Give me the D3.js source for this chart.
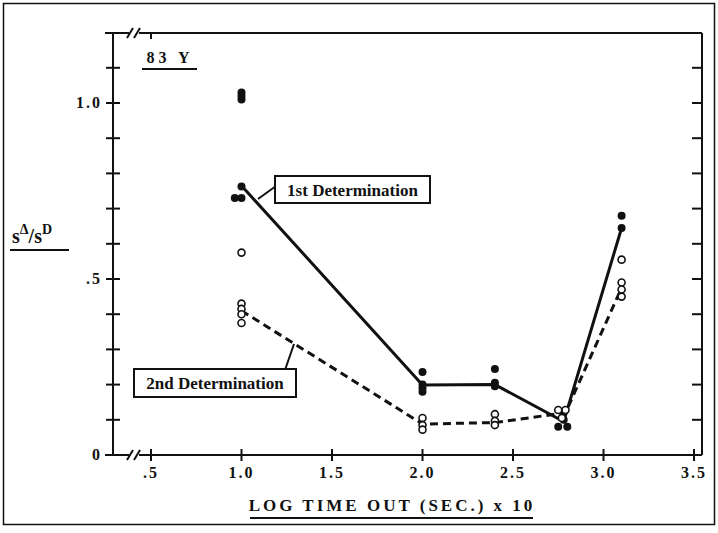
<!DOCTYPE html>
<html>
<head>
<meta charset="utf-8">
<script src="https://cdn.jsdelivr.net/npm/d3@7"></script>
<style>
  body { margin: 0; background: #fff; }
  text { font-family: "Liberation Serif", "DejaVu Serif", serif; font-weight: bold; fill: #111; }
</style>
</head>
<body>
<svg id="chart" width="718" height="533"></svg>
<script>
// x positions and medians for the two connected curves
const firstX = [1.0, 2.0, 2.4, 2.78, 3.1];
const firstY = [0.765, 0.199, 0.2, 0.095, 0.645];
const secondX = [1.0, 2.0, 2.4, 2.79, 3.1];
const secondY = [0.41, 0.088, 0.092, 0.12, 0.475];

// individual observations, [x, y]
const filledPts = [
  [1.0, 1.03], [1.0, 1.02], [1.0, 1.01], [1.0, 0.763], [0.963, 0.73], [1.0, 0.73],
  [2.0, 0.236], [2.0, 0.2], [2.0, 0.19], [2.0, 0.18],
  [2.4, 0.244], [2.4, 0.205], [2.4, 0.195],
  [2.75, 0.08], [2.8, 0.08], [2.78, 0.1],
  [3.1, 0.68], [3.1, 0.645]
];
const openPts = [
  [1.0, 0.575], [1.0, 0.43], [1.0, 0.415], [1.0, 0.4], [1.0, 0.375],
  [2.0, 0.105], [2.0, 0.085], [2.0, 0.072],
  [2.4, 0.116], [2.4, 0.097], [2.4, 0.085],
  [2.75, 0.128], [2.79, 0.128], [2.77, 0.105],
  [3.1, 0.555], [3.1, 0.49], [3.1, 0.47], [3.1, 0.45]
];

const xTicks = [0.5, 1.0, 1.5, 2.0, 2.5, 3.0, 3.5];
const xTickLabels = ['.5', '1.0', '1.5', '2.0', '2.5', '3.0', '3.5'];
const yTicks = d3.range(1, 12).map(i => i / 10);
const yTickLabels = { 0: '0', 0.5: '.5', 1.0: '1.0' };

const svg = d3.select('#chart');
const fLeft = 113, fRight = 702, fTop = 33, fBottom = 455;

const x = d3.scaleLinear().domain([0, 3.5]).range([60.5, 694]);
const y = d3.scaleLinear().domain([0, 1]).range([fBottom, 103]);

// outer border
svg.append('rect')
  .attr('x', 3.5).attr('y', 3.5).attr('width', 711).attr('height', 521)
  .attr('fill', 'none').attr('stroke', '#111').attr('stroke-width', 1.5);

const ax = svg.append('g').attr('stroke', '#111').attr('stroke-width', 2).attr('fill', 'none');

// frame lines with breaks
ax.append('line').attr('x1', fLeft).attr('x2', fLeft).attr('y1', fTop).attr('y2', fBottom);
ax.append('line').attr('x1', fRight).attr('x2', fRight).attr('y1', fTop).attr('y2', fBottom);
ax.append('line').attr('x1', fLeft - 8).attr('x2', 129).attr('y1', fBottom).attr('y2', fBottom);
ax.append('line').attr('x1', 139).attr('x2', fRight).attr('y1', fBottom).attr('y2', fBottom);
ax.append('line').attr('x1', fLeft - 8).attr('x2', 129).attr('y1', fTop).attr('y2', fTop);
ax.append('line').attr('x1', 139).attr('x2', fRight).attr('y1', fTop).attr('y2', fTop);
[fBottom, fTop].forEach(yy => {
  [127, 134].forEach(bx => {
    ax.append('line').attr('x1', bx).attr('y1', yy + 5).attr('x2', bx + 6).attr('y2', yy - 5);
  });
});

// x ticks
xTicks.forEach(t => {
  ax.append('line').attr('x1', x(t)).attr('x2', x(t)).attr('y1', fBottom - 6).attr('y2', fBottom + 6);
});
ax.append('line').attr('x1', x(0.5)).attr('x2', x(0.5)).attr('y1', fTop).attr('y2', fTop + 6);

// y ticks (left crosses, right inward)
yTicks.forEach(t => {
  ax.append('line').attr('x1', fLeft - 7).attr('x2', fLeft + 7).attr('y1', y(t)).attr('y2', y(t));
  ax.append('line').attr('x1', fRight - 10).attr('x2', fRight).attr('y1', y(t)).attr('y2', y(t));
});

svg.selectAll('.xlab').data(xTicks).join('text')
  .attr('x', d => x(d)).attr('y', fBottom + 23)
  .attr('text-anchor', 'middle').attr('font-size', 16).attr('letter-spacing', 2)
  .text((d, i) => xTickLabels[i]);

svg.selectAll('.ylab').data([0, 0.5, 1.0]).join('text')
  .attr('x', fLeft - 11).attr('y', d => y(d) + 5)
  .attr('text-anchor', 'end').attr('font-size', 16).attr('letter-spacing', 2)
  .text(d => yTickLabels[d]);

// curves
const line = d3.line().x(d => x(d[0])).y(d => y(d[1]));
svg.append('path')
  .datum(firstX.map((v, i) => [v, firstY[i]]))
  .attr('d', line).attr('fill', 'none').attr('stroke', '#111').attr('stroke-width', 3);
svg.append('path')
  .datum(secondX.map((v, i) => [v, secondY[i]]))
  .attr('d', line).attr('fill', 'none').attr('stroke', '#111').attr('stroke-width', 3)
  .attr('stroke-dasharray', '8,5');

// points
svg.selectAll('.filled').data(filledPts).join('circle')
  .attr('cx', d => x(d[0])).attr('cy', d => y(d[1])).attr('r', 4)
  .attr('fill', '#111');
svg.selectAll('.open').data(openPts).join('circle')
  .attr('cx', d => x(d[0])).attr('cy', d => y(d[1])).attr('r', 3.5)
  .attr('fill', '#fff').attr('stroke', '#111').attr('stroke-width', 1.6);

// callouts
function callout(label, bx, by, bw, bh, lx1, ly1, lx2, ly2) {
  svg.append('line').attr('x1', lx1).attr('y1', ly1).attr('x2', lx2).attr('y2', ly2)
    .attr('stroke', '#111').attr('stroke-width', 2);
  svg.append('rect').attr('x', bx).attr('y', by).attr('width', bw).attr('height', bh)
    .attr('fill', '#fff').attr('stroke', '#111').attr('stroke-width', 2);
  svg.append('text').attr('x', bx + bw / 2).attr('y', by + bh / 2 + 6)
    .attr('text-anchor', 'middle').attr('font-size', 17).text(label);
}
callout('1st Determination', 275, 176, 155, 27, 258, 199, 276, 186);
callout('2nd Determination', 134, 369, 162, 28, 285, 370, 294, 344);

// title
svg.append('text').attr('x', 170).attr('y', 63).attr('text-anchor', 'middle')
  .attr('font-size', 16).attr('letter-spacing', 4).text('83 Y');
svg.append('line').attr('x1', 142).attr('x2', 197).attr('y1', 69).attr('y2', 69)
  .attr('stroke', '#111').attr('stroke-width', 2);

// y label
const yl = svg.append('text').attr('x', 12).attr('y', 243).attr('font-size', 20);
yl.append('tspan').text('s');
yl.append('tspan').attr('dy', -9).attr('font-size', 14).text('\u0394');
yl.append('tspan').attr('dy', 9).text('/s');
yl.append('tspan').attr('dy', -9).attr('font-size', 14).text('D');
svg.append('line').attr('x1', 10).attr('x2', 69).attr('y1', 250).attr('y2', 250)
  .attr('stroke', '#111').attr('stroke-width', 2);

// x label
svg.append('text').attr('x', 392).attr('y', 511).attr('text-anchor', 'middle')
  .attr('font-size', 17).attr('letter-spacing', 3).text('LOG TIME OUT (SEC.) x 10');
svg.append('line').attr('x1', 250).attr('x2', 533).attr('y1', 518).attr('y2', 518)
  .attr('stroke', '#111').attr('stroke-width', 2);
</script>
</body>
</html>
